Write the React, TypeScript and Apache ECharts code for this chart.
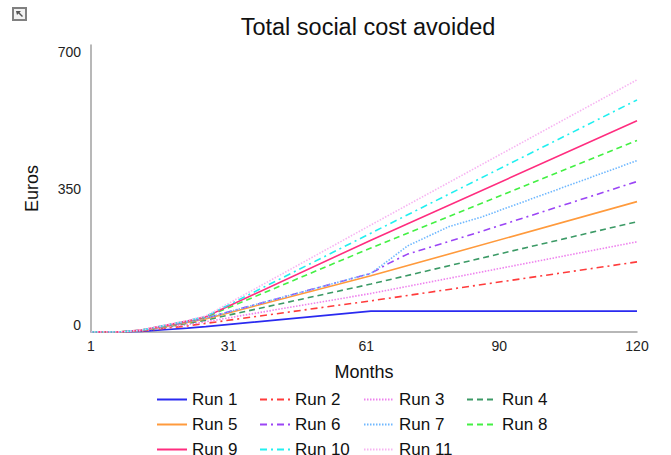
import React, { useEffect, useRef } from "react";
import * as echarts from "echarts";

const title = "Total social cost avoided";
const xName = "Months";
const yName = "Euros";
const xTickLabels = [1, 31, 61, 90, 120];
const yTickLabels = [0, 350, 700];

const runNames = ["Run 1", "Run 2", "Run 3", "Run 4", "Run 5", "Run 6", "Run 7", "Run 8", "Run 9", "Run 10", "Run 11"];

const months = [1, 7, 12, 17, 22, 26, 62, 120];
const run1 = [0, 0, 1.5, 5.5, 9.5, 13, 51, 51];
const run2 = [0, 0, 2.5, 9, 15, 21, 76, 171];
const run3 = [0, 0, 3, 10.5, 18, 25, 94, 220];
const run4 = [0, 0, 3.5, 12, 21, 29, 117, 269];
const run5 = [0, 0, 4, 13, 23, 32, 137, 318];
const run6Months = [1, 7, 12, 17, 22, 26, 62, 66, 70, 86, 120];
const run6 = [0, 0, 4, 14, 24.5, 34, 143, 168, 190, 245, 367];
const run7Months = [1, 7, 12, 17, 22, 26, 62, 66, 70, 79, 86, 120];
const run7 = [0, 0, 4, 14, 24.5, 34, 143, 176, 210, 257, 280, 418];
const run8 = [0, 0, 4.5, 15, 26, 36, 205, 467];
const run9 = [0, 0, 4.5, 15.5, 26.5, 37, 224, 515];
const run10 = [0, 0, 4.5, 16, 27, 38, 241, 566];
const run11 = [0, 0, 5, 16.5, 28, 39, 261, 615];

const runMonths = [months, months, months, months, months, run6Months, run7Months, months, months, months, months];
const runValues = [run1, run2, run3, run4, run5, run6, run7, run8, run9, run10, run11];

const runColors = ["#2a2af0", "#ff3b3b", "#ee82ee", "#3c9a66", "#ff9a3c", "#9b45f5", "#6fb8ff", "#44f044", "#ff2d7f", "#22f0f0", "#f7b4f2"];
const dashDot = [7, 4, 2, 4];
const dashed = [6, 4];
const dotted = [1.5, 1.5];
const runDash: any[] = ["solid", dashDot, dotted, dashed, "solid", dashDot, dotted, dashed, "solid", dashDot, dotted];

const legendColumns = [
  ["Run 1", "Run 5", "Run 9"],
  ["Run 2", "Run 6", "Run 10"],
  ["Run 3", "Run 7", "Run 11"],
  ["Run 4", "Run 8"],
];
const legendLefts = [151, 254, 358, 461];

const FONT = "'Liberation Sans', Arial, sans-serif";

export default function App() {
  const ref = useRef<HTMLDivElement>(null);
  useEffect(() => {
    document.body.style.margin = "0";
    if (!ref.current) return;
    const chart = echarts.init(ref.current, undefined, { renderer: "svg" });
    const series = runNames.map((name, i) => ({
      name,
      type: "line",
      data: runMonths[i].map((m, j) => [m, runValues[i][j]]),
      showSymbol: false,
      symbol: "none",
      lineStyle: { color: runColors[i], width: 1.6, type: runDash[i] },
      itemStyle: { color: runColors[i] },
    }));
    chart.setOption({
      animation: false,
      textStyle: { fontFamily: FONT },
      title: {
        text: title,
        left: 363,
        textAlign: "center",
        top: 10,
        textStyle: { fontSize: 23.5, fontWeight: "normal", color: "#111", fontFamily: FONT },
      },
      grid: { left: 91, right: 34, top: 45, bottom: 123, containLabel: false },
      xAxis: {
        type: "value",
        min: 1,
        max: 120,
        name: xName,
        nameLocation: "middle",
        nameGap: 31,
        nameTextStyle: { fontSize: 18, color: "#111", fontFamily: FONT },
        axisLine: { show: true, lineStyle: { color: "#a0a0a0", width: 1.5 } },
        axisTick: { show: false },
        splitLine: { show: false },
        axisLabel: { customValues: xTickLabels, fontSize: 14, color: "#222", margin: 7, fontFamily: FONT },
      },
      yAxis: {
        type: "value",
        min: 0,
        max: 700,
        interval: 350,
        name: yName,
        nameLocation: "middle",
        nameGap: 50,
        nameRotate: 90,
        nameTextStyle: { fontSize: 18, color: "#111", fontFamily: FONT },
        axisLine: { show: true, lineStyle: { color: "#a0a0a0", width: 1.5 } },
        axisTick: { show: false },
        splitLine: { show: false },
        axisLabel: {
          customValues: yTickLabels,
          fontSize: 14,
          color: "#222",
          margin: 10,
          fontFamily: FONT,
          verticalAlignMinLabel: "bottom",
          verticalAlignMaxLabel: "top",
        },
      },
      legend: legendColumns.map((col, k) => ({
        data: col,
        orient: "vertical",
        left: legendLefts[k],
        top: 386,
        height: 200,
        itemWidth: 30,
        itemHeight: 14,
        itemGap: 8,
        selectedMode: false,
        itemStyle: { opacity: 0 },
        textStyle: { fontSize: 17, color: "#111", fontFamily: FONT },
      })),
      graphic: [
        { type: "rect", shape: { x: 13, y: 8, width: 13, height: 12 }, style: { fill: "#f2f2f2", stroke: "#808080", lineWidth: 2 } },
        { type: "polygon", shape: { points: [[16, 11], [21, 11], [19.5, 12.5], [23, 16], [22, 17], [18.5, 13.5], [17, 15]] }, style: { fill: "#555" } },
      ],
      series,
    });
    return () => chart.dispose();
  }, []);
  return <div ref={ref} style={{ width: 671, height: 455 }} />;
}
